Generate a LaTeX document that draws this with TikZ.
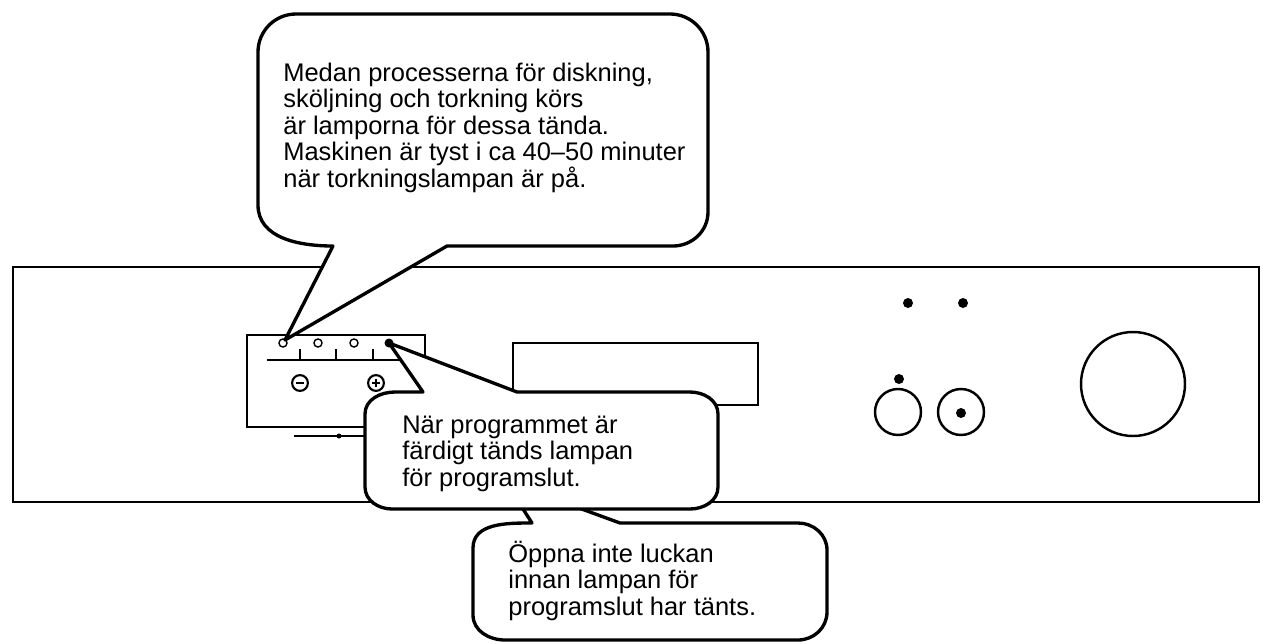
\documentclass[tikz,border=0pt]{standalone}
\usepackage{fontspec}
\setmainfont{Liberation Sans}
\begin{document}
\begin{tikzpicture}[x=0.02cm, y=-0.02cm,
    panel/.style={line width=1.6pt},
    detalj/.style={line width=1.1pt},
    lampa/.style={circle, draw, line width=0.8pt, inner sep=0pt, minimum size=4.6pt},
    knapp/.style={circle, draw, line width=1.2pt, inner sep=0pt, minimum size=9pt},
    bubbla/.style={draw, fill=white, line width=1.9pt, line join=round},
    bubbeltext/.style={anchor=base west, align=left, inner sep=0pt,
        font=\fontsize{14.5pt}{15pt}\selectfont}]

  \useasboundingbox (0,0) rectangle (1268,643);

  % Panelen
  \draw[panel] (13,267) rectangle (1259,502);

  % Programlampor med skala
  \draw[detalj] (247,335) rectangle (425,427);
  \draw[detalj] (267,360) -- (410,360);
  \foreach \x in {300,336,373} \draw[detalj] (\x,360) -- (\x,349);
  \foreach \x/\n in {283/ledA,318/ledB,354/ledC} \node[lampa] (\n) at (\x,343) {};
  \fill (389,343) circle (4.5) coordinate (ledD);

  % Knappar minus och plus
  \node[knapp] (knappMinus) at (300,383) {};
  \draw[line width=1.2pt] ([xshift=-2.2pt]knappMinus.center) -- ([xshift=2.2pt]knappMinus.center);
  \node[knapp] (knappPlus) at (376,383) {};
  \draw[line width=1.2pt] ([xshift=-2.2pt]knappPlus.center) -- ([xshift=2.2pt]knappPlus.center)
    ([yshift=-2.2pt]knappPlus.center) -- ([yshift=2.2pt]knappPlus.center);
  \draw[detalj] (294,436) -- (370,436);
  \fill (339,436) circle (2.5);

  % Display
  \draw[detalj] (513,343) rectangle (758,405);

  % Lampor, knappar och ratt till höger
  \foreach \p in {(908,303),(963,303),(899,379)} \fill \p circle (5);
  \draw[line width=1.4pt] (898,412) circle (23);
  \draw[line width=1.4pt] (961,412) circle (23);
  \fill (961,413) circle (5);
  \draw[line width=1.4pt] (1133,384) circle (52);

  % Pratbubbla nere (spetsen ligger bakom mittbubblan)
  % (base = sista radens baslinje)
  \coordinate (spetsC) at (505,481);
  \draw[bubbla] (532,523) -- (spetsC) -- (620,523) -- (798,523) to[out=0,in=90] (827,550)
    -- (827,612) to[out=-90,in=0] (798,640) -- (505,640) to[out=180,in=-90] (473,615)
    -- (473,548) to[out=90,in=180] (532,523) -- cycle;
  \node[bubbeltext] (textC) at (508,615)
    {Öppna inte luckan\\innan lampan för\\programslut har tänts.};

  % Pratbubbla i mitten, pekar på lampan för programslut
  \draw[bubbla] (423,392) -- (ledD) -- (517,392) -- (690,392) to[out=0,in=90] (718,414)
    -- (718,487) to[out=-90,in=0] (690,509) -- (392,509) to[out=180,in=-90] (365,487)
    -- (365,414) to[out=90,in=180] (395,392) -- cycle;
  \node[bubbeltext] (textB) at (402,486)
    {När programmet är\\färdigt tänds lampan\\för programslut.};

  % Pratbubbla uppe, pekar på första lampan
  \coordinate (spetsA) at (285,340);
  \draw[bubbla] (333,246) -- (spetsA) -- (447,246) -- (673,246) to[out=0,in=-90] (708,212)
    -- (708,52) to[out=90,in=0] (670,14) -- (296,14) to[out=180,in=90] (258,52)
    -- (258,205) to[out=-90,in=180] (333,246) -- cycle;
  \node[bubbeltext] (textA) at (283,187)
    {Medan processerna för diskning,\\sköljning och torkning körs\\är lamporna för dessa tända.\\Maskinen är tyst i ca 40–50 minuter\\när torkningslampan är på.};

\end{tikzpicture}
\end{document}
